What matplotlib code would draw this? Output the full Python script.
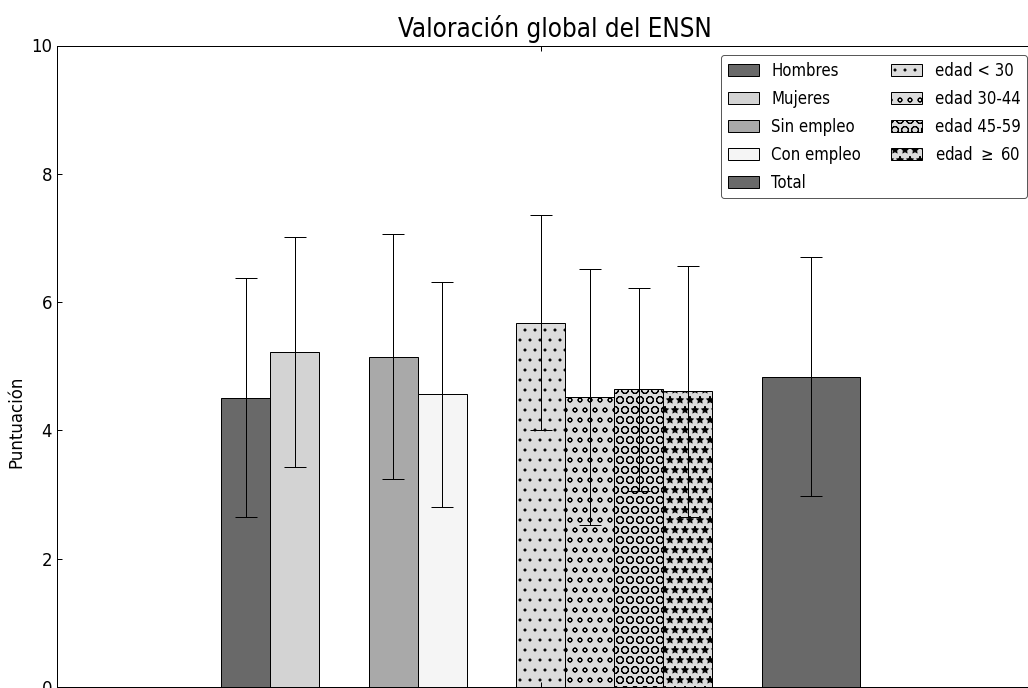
import matplotlib

matplotlib.use("Agg")
import matplotlib.pyplot as plt  # noqa: E402

plt.rcParams["font.family"] = ["DejaVu Sans"]
plt.rcParams["font.stretch"] = "condensed"
plt.rcParams["hatch.linewidth"] = 1.2

# valores (media y desviacion)
labels = ["Hombres", "Mujeres", "Sin empleo", "Con empleo",
          "edad < 30", "edad 30-44", "edad 45-59", r"edad $\geq$ 60", "Total"]
means = [4.51, 5.22, 5.15, 4.56, 5.68, 4.52, 4.64, 4.61, 4.84]
errs = [1.86, 1.79, 1.91, 1.76, 1.67, 2.00, 1.58, 1.96, 1.86]
group_sizes = [2, 2, 4, 1]

colors = ["#696969", "#d3d3d3", "#a9a9a9", "#f5f5f5",
          "#dcdcdc", "#dcdcdc", "#dcdcdc", "#dcdcdc", "#696969"]
hatches = ["", "", "", "", ".", "o", "O", "*", ""]
widths = [1, 1, 1, 1, 1, 1, 1, 1, 2]

# posiciones: barras contiguas dentro de cada grupo, hueco de una barra entre grupos
lefts = []
x = 0.0
i = 0
for n in group_sizes:
    for _ in range(n):
        lefts.append(x)
        x += widths[i]
        i += 1
    x += 1

DPI = 60
fig = plt.figure(figsize=(1028 / DPI, 688 / DPI), dpi=DPI)
# el eje sobresale por la derecha, como en la imagen original (recortada)
ax = fig.add_axes([57 / 1028, 1 / 688, (1053 - 57) / 1028, (687 - 45.5) / 688])

bars = ax.bar(lefts, means, widths, align="edge", color=colors,
              edgecolor="black", linewidth=1.2, yerr=errs,
              error_kw=dict(ecolor="black", elinewidth=1.2, capsize=13, capthick=1.2))
for patch, h in zip(bars.patches, hatches):
    if h:
        patch.set_hatch(h)

ax.set_xlim(-3.34, 16.93)
ax.set_ylim(0, 10)
ax.set_yticks([0, 2, 4, 6, 8, 10])
ax.set_xticks([lefts[4] + widths[4] / 2])
ax.tick_params(direction="in", top=True, right=True, length=6, width=1.2,
               labelbottom=False, labelsize=22, pad=6)
for s in ax.spines.values():
    s.set_linewidth(1.2)

ax.set_ylabel("Puntuación", fontsize=20, fontstretch="normal")
ax.yaxis.set_label_coords(-0.0315, 0.413)
ax.set_title("Valoración global del ENSN", fontsize=31, pad=10)

order = [0, 1, 2, 3, 8, 4, 5, 6, 7]
leg = ax.legend([bars.patches[k] for k in order], [labels[k] for k in order],
                ncol=2, loc="upper left", bbox_to_anchor=(721 / 1028, 1 - 55 / 688),
                bbox_transform=fig.transFigure, borderaxespad=0, fontsize=20,
                handlelength=1.85, handleheight=0.8, handletextpad=0.76,
                columnspacing=1.8, labelspacing=0.6, borderpad=0.4,
                fancybox=True, framealpha=1)
leg.get_frame().set_edgecolor("0.35")
leg.get_frame().set_linewidth(1.2)

fig.savefig("out.png", dpi=DPI)
